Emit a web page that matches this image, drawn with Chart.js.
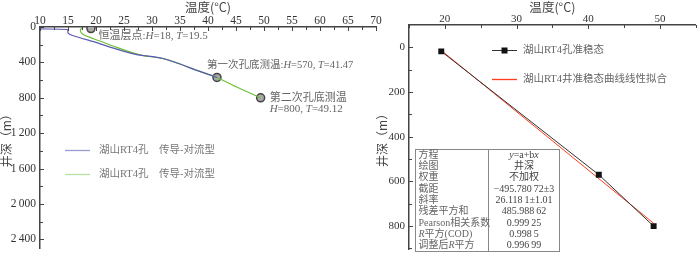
<!DOCTYPE html>
<html><head><meta charset="utf-8">
<script src="https://cdn.jsdelivr.net/npm/chart.js@4.4.0/dist/chart.umd.min.js"></script>
<style>
html,body{margin:0;padding:0;background:#fff;}
#wrap{position:relative;width:700px;height:254px;overflow:hidden;background:#fff;}
canvas{position:absolute;left:0;top:0;}
</style></head><body>
<div id="wrap"><canvas id="c1" width="700" height="254"></canvas><canvas id="c2" width="700" height="254"></canvas></div>
<script>
// ---------- data (left panel) ----------
const blueT  = [10, 14.9, 15.0, 15.7, 20.1, 23.7, 27.3, 28.2, 32.0, 35.0, 38.0, 41.6];
const blueD  = [22, 28, 66, 93, 177, 250, 313, 320, 356, 418, 490, 570];
const greenT = [17.45, 17.2, 17.6, 18.8, 20.7, 23.7, 26.6, 28.2, 32.0, 35.0, 38.0, 41.6, 45.5, 49.4];
const greenD = [10, 40, 80, 115, 158, 230, 292, 320, 358, 418, 490, 570, 690, 800];
const markT  = [19.1, 41.6, 49.4];
const markD  = [18, 570, 800];
const leftXTicks = [10, 15, 20, 25, 30, 35, 40, 45, 50, 55, 60, 65, 70];
const leftYTicks = [0, 400, 800, 1200, 1600, 2000, 2400];
const seriesName = '湖山RT4孔\u3000传导-对流型';
// ---------- data (right panel) ----------
const rightT = [19.5, 41.47, 49.12];
const rightD = [18, 570, 800];
const fitT = [19.5, 49.12];
const fitD = [13.5, 787.2];
const rightXTicks = [20, 30, 40, 50];
const rightYTicks = [0, 200, 400, 600, 800];
const tableLabels = ['方程', '绘图', '权重', '截距', '斜率', '残差平方和', 'Pearson相关系数', '_R_平方(COD)', '调整后_R_平方'];
const tableValues = ['_y_=a+b_x_', '井深', '不加权', '−495.780\u200972±3', '26.118\u20091±1.01', '485.988\u200962', '0.999\u200925', '0.998\u20095', '0.996\u200999'];

const FONT = "'Liberation Serif','Noto Sans CJK SC',serif";
const CJK = "'Noto Sans CJK SC','Liberation Serif',sans-serif";

function withMinor(majors) {
  const out = [];
  majors.forEach((v, i) => { out.push(v); if (i < majors.length - 1) out.push((v + majors[i + 1]) / 2); });
  return out;
}
function fmt(v) {
  if (Math.abs(v) >= 1000) { const s = String(v); return s.slice(0, s.length - 3) + '\u2009' + s.slice(-3); }
  return String(v);
}
function segs(str) { return str.split('_').map((t, i) => ({ t, i: i % 2 === 1 })).filter(s => s.t.length); }
function richWidth(ctx, str, size) {
  let w = 0; segs(str).forEach(s => { ctx.font = (s.i ? 'italic ' : '') + size + 'px ' + FONT; w += ctx.measureText(s.t).width; }); return w;
}
function drawRich(ctx, str, x, y, size, color, align) {
  let cx = x;
  if (align === 'center') cx = x - richWidth(ctx, str, size) / 2;
  ctx.fillStyle = color; ctx.textBaseline = 'middle'; ctx.textAlign = 'left';
  segs(str).forEach(s => { ctx.font = (s.i ? 'italic ' : '') + size + 'px ' + FONT; ctx.fillText(s.t, cx, y); cx += ctx.measureText(s.t).width; });
}

const inTicks = {
  id: 'inTicks',
  afterDraw(chart, args, opts) {
    const { ctx, chartArea: a } = chart;
    const xs = chart.scales.x, ys = chart.scales.y;
    ctx.save(); ctx.strokeStyle = '#444'; ctx.lineWidth = 1; ctx.beginPath();
    xs.ticks.forEach(t => {
      const len = opts.xMajor.includes(t.value) ? 4 : 3;
      const px = Math.round(xs.getPixelForValue(t.value)) + 0.5;
      ctx.moveTo(px, a.top); ctx.lineTo(px, a.top + len);
    });
    ys.ticks.forEach(t => {
      const len = opts.yMajor.includes(t.value) ? 4 : 3;
      const py = Math.round(ys.getPixelForValue(t.value)) + 0.5;
      ctx.moveTo(a.left, py); ctx.lineTo(a.left + len, py);
    });
    ctx.stroke(); ctx.restore();
  }
};

function axisCommon() {
  return {
    grid: { display: true, drawOnChartArea: false, drawTicks: false },
    border: { display: true, color: '#444', width: 1.5 },
  };
}

// ---------- left chart ----------
const leftDecor = {
  id: 'leftDecor',
  afterDatasetsDraw(chart) {
    const ctx = chart.ctx, xs = chart.scales.x, ys = chart.scales.y;
    ctx.save();
    const p = markT.map((t, i) => ({ x: xs.getPixelForValue(t), y: ys.getPixelForValue(markD[i]) }));
    drawRich(ctx, '恒温层点:_H_=18, _T_=19.5', p[0].x + 7.5, p[0].y + 8, 11, '#666');
    drawRich(ctx, '第一次孔底测温:_H_=570, _T_=41.47', p[1].x - 10, p[1].y - 12, 10.5, '#666');
    drawRich(ctx, '第二次孔底测温', p[2].x + 9, p[2].y, 11, '#666');
    drawRich(ctx, '_H_=800, _T_=49.12', p[2].x + 9, p[2].y + 11, 11, '#666');
    // legend
    const lg = [{ c: '#9a9ad2', y: 150 }, { c: '#b8e0a0', y: 174 }];
    lg.forEach(l => {
      ctx.strokeStyle = l.c; ctx.lineWidth = 1.3; ctx.beginPath(); ctx.moveTo(65, l.y + 0.5); ctx.lineTo(90, l.y + 0.5); ctx.stroke();
      drawRich(ctx, seriesName, 99, l.y, 10.5, '#777');
    });
    ctx.restore();
  }
};

new Chart(document.getElementById('c1'), {
  type: 'line',
  data: {
    datasets: [
      { label: seriesName, data: blueT.map((t, i) => ({ x: t, y: blueD[i] })), borderColor: '#5a5ab4', borderWidth: 1.2, pointRadius: 0, tension: 0.2, fill: false },
      { label: seriesName, data: greenT.map((t, i) => ({ x: t, y: greenD[i] })), borderColor: '#6cc03a', borderWidth: 1.2, pointRadius: 0, tension: 0.3, fill: false },
      { label: 'points', data: markT.map((t, i) => ({ x: t, y: markD[i] })), showLine: false, pointRadius: 4, pointBackgroundColor: '#a9a9a9', pointBorderColor: '#444', pointBorderWidth: 1.5 }
    ]
  },
  options: {
    responsive: false, animation: false, devicePixelRatio: 1,
    layout: { padding: { left: 0, top: 0, right: 324, bottom: 0 } },
    plugins: { legend: { display: false }, tooltip: { enabled: false }, inTicks: { xMajor: leftXTicks, yMajor: leftYTicks } },
    scales: {
      x: Object.assign(axisCommon(), {
        type: 'linear', position: 'top', min: 10, max: 70,
        afterBuildTicks: s => { s.ticks = withMinor(leftXTicks).map(v => ({ value: v })); },
        afterFit: s => { s.height = 27; s.paddingLeft = 0; s.paddingRight = 0; },
        ticks: { autoSkip: false, maxRotation: 0, padding: 0, color: '#333', font: { family: FONT, size: 11.5, lineHeight: 1 },
          callback: v => leftXTicks.includes(v) ? fmt(v) : '' },
        title: { display: true, text: '温度(°C)', color: '#444', font: { family: CJK, size: 12.5, lineHeight: 1.2 }, padding: { top: 0, bottom: 0 } }
      }),
      y: Object.assign(axisCommon(), {
        type: 'linear', position: 'left', reverse: true, min: 0, max: 2503,
        afterBuildTicks: s => { s.ticks = withMinor(leftYTicks).map(v => ({ value: v })); },
        afterFit: s => { s.width = 40; s.paddingTop = 0; s.paddingBottom = 0; },
        ticks: { autoSkip: false, padding: 4, color: '#333', font: { family: FONT, size: 11.5, lineHeight: 1 },
          callback: v => leftYTicks.includes(v) ? fmt(v) : '' },
        title: { display: true, text: '井深（m）', color: '#444', font: { family: CJK, size: 12, lineHeight: 1 }, padding: { top: 0, bottom: 0 } }
      })
    }
  },
  plugins: [inTicks, leftDecor]
});

// ---------- right chart ----------
const rightDecor = {
  id: 'rightDecor',
  afterDatasetsDraw(chart) {
    const ctx = chart.ctx;
    ctx.save();
    // legend
    ctx.strokeStyle = '#333'; ctx.lineWidth = 1; ctx.beginPath(); ctx.moveTo(492, 50.5); ctx.lineTo(517, 50.5); ctx.stroke();
    ctx.fillStyle = '#111'; ctx.fillRect(501.5, 47.5, 6, 6);
    drawRich(ctx, '湖山RT4孔准稳态', 523, 50, 10.5, '#666');
    ctx.strokeStyle = '#ff3c1e'; ctx.lineWidth = 1.3; ctx.beginPath(); ctx.moveTo(492, 79.5); ctx.lineTo(517, 79.5); ctx.stroke();
    drawRich(ctx, '湖山RT4井准稳态曲线线性拟合', 523, 79, 10.5, '#666');
    // table
    const tx = 415.5, ty = 149.5, tw = 144, th = 102, col = 488.5, rh = th / tableLabels.length;
    ctx.fillStyle = '#fff'; ctx.fillRect(tx, ty, tw, th);
    ctx.strokeStyle = '#888'; ctx.lineWidth = 1; ctx.strokeRect(tx, ty, tw, th);
    ctx.beginPath(); ctx.moveTo(col, ty); ctx.lineTo(col, ty + th); ctx.stroke();
    tableLabels.forEach((l, i) => {
      const cy = ty + rh * (i + 0.5);
      drawRich(ctx, l, tx + 3, cy, 10, '#666');
      drawRich(ctx, tableValues[i], (col + tx + tw) / 2, cy, 10, '#444', 'center');
    });
    ctx.restore();
  }
};

new Chart(document.getElementById('c2'), {
  type: 'line',
  data: {
    datasets: [
      { label: '湖山RT4孔准稳态', data: rightT.map((t, i) => ({ x: t, y: rightD[i] })), borderColor: '#333', borderWidth: 1, pointStyle: 'rect', pointRadius: 4.2, pointBackgroundColor: '#111', pointBorderColor: '#111', pointBorderWidth: 0, order: 0 },
      { label: '湖山RT4井准稳态曲线线性拟合', data: fitT.map((t, i) => ({ x: t, y: fitD[i] })), borderColor: '#ff3c1e', borderWidth: 1, pointRadius: 0, order: 1 }
    ]
  },
  options: {
    responsive: false, animation: false, devicePixelRatio: 1,
    layout: { padding: { left: 372, top: 0, right: 1, bottom: 0 } },
    plugins: { legend: { display: false }, tooltip: { enabled: false }, inTicks: { xMajor: rightXTicks, yMajor: rightYTicks } },
    scales: {
      x: Object.assign(axisCommon(), {
        type: 'linear', position: 'top', min: 15, max: 55,
        afterBuildTicks: s => { s.ticks = withMinor(rightXTicks).concat([15, 55]).sort((a, b) => a - b).map(v => ({ value: v })); },
        afterFit: s => { s.height = 25; s.paddingLeft = 0; s.paddingRight = 0; },
        ticks: { autoSkip: false, maxRotation: 0, padding: 0, color: '#333', font: { family: FONT, size: 11, lineHeight: 1 },
          callback: v => rightXTicks.includes(v) ? fmt(v) : '' },
        title: { display: true, text: '温度(°C)', color: '#444', font: { family: CJK, size: 12.5, lineHeight: 1.2 }, padding: { top: 0, bottom: 0 } }
      }),
      y: Object.assign(axisCommon(), {
        type: 'linear', position: 'left', reverse: true, min: -100, max: 906,
        afterBuildTicks: s => { s.ticks = withMinor(rightYTicks).concat([900]).map(v => ({ value: v })); },
        afterFit: s => { s.width = 37; s.paddingTop = 0; s.paddingBottom = 0; },
        ticks: { autoSkip: false, padding: 4, color: '#333', font: { family: FONT, size: 11, lineHeight: 1 },
          callback: v => rightYTicks.includes(v) ? fmt(v) : '' },
        title: { display: true, text: '井深（m）', color: '#444', font: { family: CJK, size: 12, lineHeight: 1 }, padding: { top: 4, bottom: 0 } }
      })
    }
  },
  plugins: [inTicks, rightDecor]
});
</script>
</body></html>
